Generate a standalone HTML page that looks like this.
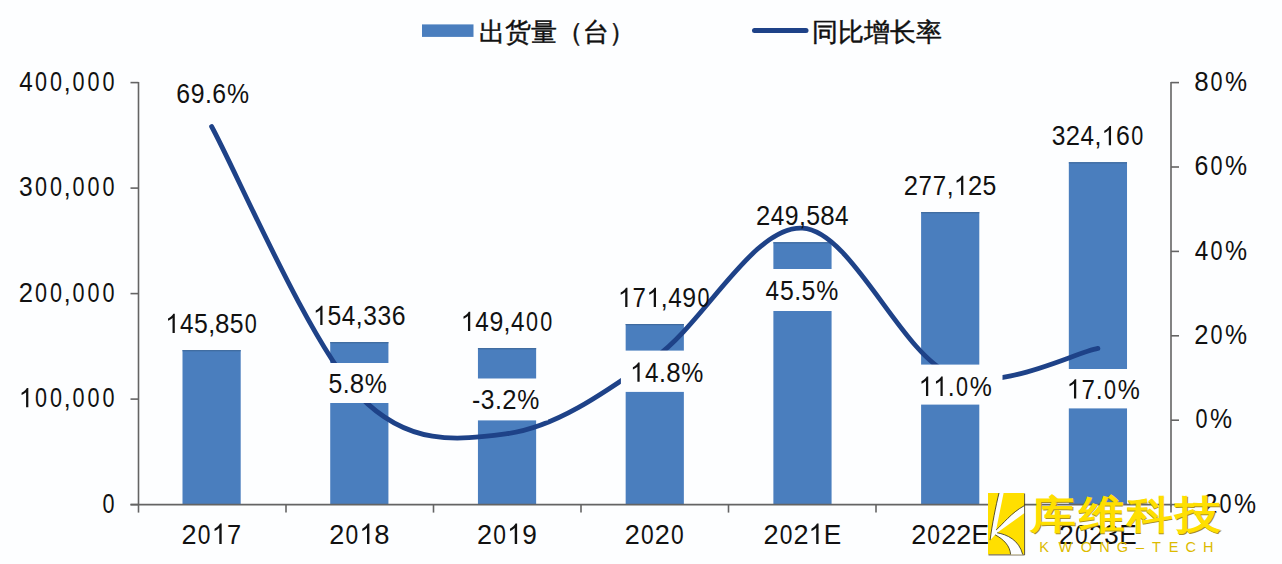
<!DOCTYPE html>
<html><head><meta charset="utf-8"><style>html,body{margin:0;padding:0;background:#fdfeff;width:1282px;height:564px;overflow:hidden}svg{display:block}</style></head>
<body><svg width="1282" height="564" viewBox="0 0 1282 564">
<rect width="1282" height="564" fill="#fdfeff"/>
<rect x="182.50" y="350.10" width="58.2" height="154.50" fill="#4a7ebe"/>
<rect x="182.50" y="350.10" width="58.2" height="1.2" fill="#3f6a9e"/>
<rect x="330.22" y="342.10" width="58.2" height="162.50" fill="#4a7ebe"/>
<rect x="330.22" y="342.10" width="58.2" height="1.2" fill="#3f6a9e"/>
<rect x="477.94" y="348.10" width="58.2" height="156.50" fill="#4a7ebe"/>
<rect x="477.94" y="348.10" width="58.2" height="1.2" fill="#3f6a9e"/>
<rect x="625.66" y="324.00" width="58.2" height="180.60" fill="#4a7ebe"/>
<rect x="625.66" y="324.00" width="58.2" height="1.2" fill="#3f6a9e"/>
<rect x="773.38" y="242.20" width="58.2" height="262.40" fill="#4a7ebe"/>
<rect x="773.38" y="242.20" width="58.2" height="1.2" fill="#3f6a9e"/>
<rect x="921.10" y="212.10" width="58.2" height="292.50" fill="#4a7ebe"/>
<rect x="921.10" y="212.10" width="58.2" height="1.2" fill="#3f6a9e"/>
<rect x="1068.82" y="162.20" width="58.2" height="342.40" fill="#4a7ebe"/>
<rect x="1068.82" y="162.20" width="58.2" height="1.2" fill="#3f6a9e"/>
<g stroke="#646464" stroke-width="1.6" fill="none">
<path d="M138.5 82.1V505.1M1171.0 82.1V506.6"/>
<path d="M130.5 504.6H1171.0"/>
<path d="M130.5 504.60H138.5"/>
<path d="M130.5 399.10H138.5"/>
<path d="M130.5 293.60H138.5"/>
<path d="M130.5 188.10H138.5"/>
<path d="M130.5 82.60H138.5"/>
<path d="M1171.0 504.60H1179.0"/>
<path d="M1171.0 420.20H1179.0"/>
<path d="M1171.0 335.80H1179.0"/>
<path d="M1171.0 251.40H1179.0"/>
<path d="M1171.0 167.00H1179.0"/>
<path d="M1171.0 82.60H1179.0"/>
<path d="M138.50 504.6V512.6"/>
<path d="M286.00 504.6V512.6"/>
<path d="M433.50 504.6V512.6"/>
<path d="M581.00 504.6V512.6"/>
<path d="M728.50 504.6V512.6"/>
<path d="M876.00 504.6V512.6"/>
<path d="M1023.50 504.6V512.6"/>
<path d="M1171.00 504.6V512.6"/>
</g>
<path d="M211.60 126.49 C236.22 171.36 310.08 344.52 359.32 395.72 C408.56 446.93 457.80 440.03 507.04 433.70 C556.28 427.37 605.52 392.00 654.76 357.74 C704.00 323.49 753.24 225.52 802.48 228.19 C851.72 230.86 900.96 353.74 950.20 373.78 C999.44 393.83 1073.30 352.68 1097.92 348.46" fill="none" stroke="#1e4288" stroke-width="4.8" stroke-linecap="round" stroke-linejoin="round"/>
<g font-family="Liberation Sans, sans-serif" font-size="27" fill="#111" text-anchor="middle">
<text transform="translate(183.06,103.00) scale(0.920,1)">6</text><text transform="translate(197.55,103.00) scale(0.920,1)">9</text><text transform="translate(208.41,103.00) scale(0.920,1)">.</text><text transform="translate(219.28,103.00) scale(0.920,1)">6</text><text transform="translate(238.11,103.00) scale(0.920,1)">%</text>
<rect x="317.80" y="363" width="80" height="40.00" fill="#fdfeff"/>
<text transform="translate(335.35,392.80) scale(0.920,1)">5</text><text transform="translate(346.22,392.80) scale(0.920,1)">.</text><text transform="translate(357.08,392.80) scale(0.960,1)">8</text><text transform="translate(375.91,392.80) scale(0.920,1)">%</text>
<rect x="463.80" y="378.5" width="84" height="41.90" fill="#fdfeff"/>
<text transform="translate(476.11,409.25) scale(0.920,1)">-</text><text transform="translate(487.69,409.25) scale(0.910,1)">3</text><text transform="translate(498.55,409.25) scale(0.920,1)">.</text><text transform="translate(509.42,409.25) scale(0.950,1)">2</text><text transform="translate(528.25,409.25) scale(0.920,1)">%</text>
<rect x="620.90" y="350.6" width="92" height="41.30" fill="#fdfeff"/>
<path transform="translate(637.21,381.85) scale(0.01252,-0.01318) translate(-569.5,0)" d="M763 0H583V1147C540 1106 483 1064 413 1023C343 982 280 951 223 930V1104C323 1151 410 1208 485 1275C560 1342 613 1406 644 1466H763Z"/><text transform="translate(651.70,381.85) scale(0.900,1)">4</text><text transform="translate(662.56,381.85) scale(0.920,1)">.</text><text transform="translate(673.43,381.85) scale(0.960,1)">8</text><text transform="translate(692.26,381.85) scale(0.920,1)">%</text>
<rect x="756.00" y="269" width="92" height="42.00" fill="#fdfeff"/>
<text transform="translate(772.31,300.30) scale(0.900,1)">4</text><text transform="translate(786.80,300.30) scale(0.920,1)">5</text><text transform="translate(797.66,300.30) scale(0.920,1)">.</text><text transform="translate(808.53,300.30) scale(0.920,1)">5</text><text transform="translate(827.36,300.30) scale(0.920,1)">%</text>
<rect x="908.50" y="364.6" width="94" height="40.00" fill="#fdfeff"/>
<path transform="translate(925.81,395.90) scale(0.01252,-0.01318) translate(-569.5,0)" d="M763 0H583V1147C540 1106 483 1064 413 1023C343 982 280 951 223 930V1104C323 1151 410 1208 485 1275C560 1342 613 1406 644 1466H763Z"/><path transform="translate(940.30,395.90) scale(0.01252,-0.01318) translate(-569.5,0)" d="M763 0H583V1147C540 1106 483 1064 413 1023C343 982 280 951 223 930V1104C323 1151 410 1208 485 1275C560 1342 613 1406 644 1466H763Z"/><text transform="translate(951.16,395.90) scale(0.920,1)">.</text><text transform="translate(962.03,395.90) scale(0.800,1)">0</text><text transform="translate(980.86,395.90) scale(0.920,1)">%</text>
<rect x="1057.50" y="369" width="92" height="39.40" fill="#fdfeff"/>
<path transform="translate(1073.81,398.50) scale(0.01252,-0.01318) translate(-569.5,0)" d="M763 0H583V1147C540 1106 483 1064 413 1023C343 982 280 951 223 930V1104C323 1151 410 1208 485 1275C560 1342 613 1406 644 1466H763Z"/><text transform="translate(1088.30,398.50) scale(0.890,1)">7</text><text transform="translate(1099.16,398.50) scale(0.920,1)">.</text><text transform="translate(1110.03,398.50) scale(0.800,1)">0</text><text transform="translate(1128.86,398.50) scale(0.920,1)">%</text>
<path transform="translate(172.37,333.10) scale(0.01252,-0.01318) translate(-569.5,0)" d="M763 0H583V1147C540 1106 483 1064 413 1023C343 982 280 951 223 930V1104C323 1151 410 1208 485 1275C560 1342 613 1406 644 1466H763Z"/><text transform="translate(186.64,333.10) scale(0.900,1)">4</text><text transform="translate(200.90,333.10) scale(0.920,1)">5</text><text transform="translate(211.60,333.10) scale(0.920,1)">,</text><text transform="translate(222.30,333.10) scale(0.960,1)">8</text><text transform="translate(236.56,333.10) scale(0.920,1)">5</text><text transform="translate(250.83,333.10) scale(0.800,1)">0</text>
<path transform="translate(320.09,325.10) scale(0.01252,-0.01318) translate(-569.5,0)" d="M763 0H583V1147C540 1106 483 1064 413 1023C343 982 280 951 223 930V1104C323 1151 410 1208 485 1275C560 1342 613 1406 644 1466H763Z"/><text transform="translate(334.36,325.10) scale(0.920,1)">5</text><text transform="translate(348.62,325.10) scale(0.900,1)">4</text><text transform="translate(359.32,325.10) scale(0.920,1)">,</text><text transform="translate(370.02,325.10) scale(0.910,1)">3</text><text transform="translate(384.28,325.10) scale(0.910,1)">3</text><text transform="translate(398.55,325.10) scale(0.920,1)">6</text>
<path transform="translate(467.81,331.10) scale(0.01252,-0.01318) translate(-569.5,0)" d="M763 0H583V1147C540 1106 483 1064 413 1023C343 982 280 951 223 930V1104C323 1151 410 1208 485 1275C560 1342 613 1406 644 1466H763Z"/><text transform="translate(482.08,331.10) scale(0.900,1)">4</text><text transform="translate(496.34,331.10) scale(0.920,1)">9</text><text transform="translate(507.04,331.10) scale(0.920,1)">,</text><text transform="translate(517.74,331.10) scale(0.900,1)">4</text><text transform="translate(532.00,331.10) scale(0.800,1)">0</text><text transform="translate(546.27,331.10) scale(0.800,1)">0</text>
<path transform="translate(625.03,307.00) scale(0.01252,-0.01318) translate(-569.5,0)" d="M763 0H583V1147C540 1106 483 1064 413 1023C343 982 280 951 223 930V1104C323 1151 410 1208 485 1275C560 1342 613 1406 644 1466H763Z"/><text transform="translate(639.30,307.00) scale(0.890,1)">7</text><path transform="translate(653.56,307.00) scale(0.01252,-0.01318) translate(-569.5,0)" d="M763 0H583V1147C540 1106 483 1064 413 1023C343 982 280 951 223 930V1104C323 1151 410 1208 485 1275C560 1342 613 1406 644 1466H763Z"/><text transform="translate(664.26,307.00) scale(0.920,1)">,</text><text transform="translate(674.96,307.00) scale(0.900,1)">4</text><text transform="translate(689.22,307.00) scale(0.920,1)">9</text><text transform="translate(703.49,307.00) scale(0.800,1)">0</text>
<text transform="translate(763.25,225.20) scale(0.950,1)">2</text><text transform="translate(777.52,225.20) scale(0.900,1)">4</text><text transform="translate(791.78,225.20) scale(0.920,1)">9</text><text transform="translate(802.48,225.20) scale(0.920,1)">,</text><text transform="translate(813.18,225.20) scale(0.920,1)">5</text><text transform="translate(827.44,225.20) scale(0.960,1)">8</text><text transform="translate(841.71,225.20) scale(0.900,1)">4</text>
<text transform="translate(910.97,195.10) scale(0.950,1)">2</text><text transform="translate(925.24,195.10) scale(0.890,1)">7</text><text transform="translate(939.50,195.10) scale(0.890,1)">7</text><text transform="translate(950.20,195.10) scale(0.920,1)">,</text><path transform="translate(960.90,195.10) scale(0.01252,-0.01318) translate(-569.5,0)" d="M763 0H583V1147C540 1106 483 1064 413 1023C343 982 280 951 223 930V1104C323 1151 410 1208 485 1275C560 1342 613 1406 644 1466H763Z"/><text transform="translate(975.16,195.10) scale(0.950,1)">2</text><text transform="translate(989.43,195.10) scale(0.920,1)">5</text>
<text transform="translate(1058.69,145.20) scale(0.910,1)">3</text><text transform="translate(1072.96,145.20) scale(0.950,1)">2</text><text transform="translate(1087.22,145.20) scale(0.900,1)">4</text><text transform="translate(1097.92,145.20) scale(0.920,1)">,</text><path transform="translate(1108.62,145.20) scale(0.01252,-0.01318) translate(-569.5,0)" d="M763 0H583V1147C540 1106 483 1064 413 1023C343 982 280 951 223 930V1104C323 1151 410 1208 485 1275C560 1342 613 1406 644 1466H763Z"/><text transform="translate(1122.88,145.20) scale(0.920,1)">6</text><text transform="translate(1137.15,145.20) scale(0.800,1)">0</text>
<text transform="translate(108.49,512.80) scale(0.800,1)">0</text>
<path transform="translate(25.91,407.30) scale(0.01252,-0.01318) translate(-569.5,0)" d="M763 0H583V1147C540 1106 483 1064 413 1023C343 982 280 951 223 930V1104C323 1151 410 1208 485 1275C560 1342 613 1406 644 1466H763Z"/><text transform="translate(40.93,407.30) scale(0.800,1)">0</text><text transform="translate(55.94,407.30) scale(0.800,1)">0</text><text transform="translate(67.20,407.30) scale(0.920,1)">,</text><text transform="translate(78.46,407.30) scale(0.800,1)">0</text><text transform="translate(93.48,407.30) scale(0.800,1)">0</text><text transform="translate(108.49,407.30) scale(0.800,1)">0</text>
<text transform="translate(25.91,301.80) scale(0.950,1)">2</text><text transform="translate(40.93,301.80) scale(0.800,1)">0</text><text transform="translate(55.94,301.80) scale(0.800,1)">0</text><text transform="translate(67.20,301.80) scale(0.920,1)">,</text><text transform="translate(78.46,301.80) scale(0.800,1)">0</text><text transform="translate(93.48,301.80) scale(0.800,1)">0</text><text transform="translate(108.49,301.80) scale(0.800,1)">0</text>
<text transform="translate(25.91,196.30) scale(0.910,1)">3</text><text transform="translate(40.93,196.30) scale(0.800,1)">0</text><text transform="translate(55.94,196.30) scale(0.800,1)">0</text><text transform="translate(67.20,196.30) scale(0.920,1)">,</text><text transform="translate(78.46,196.30) scale(0.800,1)">0</text><text transform="translate(93.48,196.30) scale(0.800,1)">0</text><text transform="translate(108.49,196.30) scale(0.800,1)">0</text>
<text transform="translate(25.91,90.80) scale(0.900,1)">4</text><text transform="translate(40.93,90.80) scale(0.800,1)">0</text><text transform="translate(55.94,90.80) scale(0.800,1)">0</text><text transform="translate(67.20,90.80) scale(0.920,1)">,</text><text transform="translate(78.46,90.80) scale(0.800,1)">0</text><text transform="translate(93.48,90.80) scale(0.800,1)">0</text><text transform="translate(108.49,90.80) scale(0.800,1)">0</text>
<text transform="translate(1198.50,512.80) scale(0.920,1)">-</text><text transform="translate(1210.50,512.80) scale(0.950,1)">2</text><text transform="translate(1225.52,512.80) scale(0.800,1)">0</text><text transform="translate(1245.03,512.80) scale(0.920,1)">%</text>
<text transform="translate(1201.51,428.40) scale(0.800,1)">0</text><text transform="translate(1221.02,428.40) scale(0.920,1)">%</text>
<text transform="translate(1201.51,344.00) scale(0.950,1)">2</text><text transform="translate(1216.52,344.00) scale(0.800,1)">0</text><text transform="translate(1236.04,344.00) scale(0.920,1)">%</text>
<text transform="translate(1201.51,259.60) scale(0.900,1)">4</text><text transform="translate(1216.52,259.60) scale(0.800,1)">0</text><text transform="translate(1236.04,259.60) scale(0.920,1)">%</text>
<text transform="translate(1201.51,175.20) scale(0.920,1)">6</text><text transform="translate(1216.52,175.20) scale(0.800,1)">0</text><text transform="translate(1236.04,175.20) scale(0.920,1)">%</text>
<text transform="translate(1201.51,90.80) scale(0.960,1)">8</text><text transform="translate(1216.52,90.80) scale(0.800,1)">0</text><text transform="translate(1236.04,90.80) scale(0.920,1)">%</text>
<text transform="translate(189.08,544.00) scale(0.950,1)" font-size="28.5">2</text><text transform="translate(204.09,544.00) scale(0.800,1)" font-size="28.5">0</text><path transform="translate(219.11,544.00) scale(0.01322,-0.01392) translate(-569.5,0)" d="M763 0H583V1147C540 1106 483 1064 413 1023C343 982 280 951 223 930V1104C323 1151 410 1208 485 1275C560 1342 613 1406 644 1466H763Z"/><text transform="translate(234.12,544.00) scale(0.890,1)" font-size="28.5">7</text>
<text transform="translate(336.80,544.00) scale(0.950,1)" font-size="28.5">2</text><text transform="translate(351.81,544.00) scale(0.800,1)" font-size="28.5">0</text><path transform="translate(366.83,544.00) scale(0.01322,-0.01392) translate(-569.5,0)" d="M763 0H583V1147C540 1106 483 1064 413 1023C343 982 280 951 223 930V1104C323 1151 410 1208 485 1275C560 1342 613 1406 644 1466H763Z"/><text transform="translate(381.84,544.00) scale(0.960,1)" font-size="28.5">8</text>
<text transform="translate(484.52,544.00) scale(0.950,1)" font-size="28.5">2</text><text transform="translate(499.53,544.00) scale(0.800,1)" font-size="28.5">0</text><path transform="translate(514.55,544.00) scale(0.01322,-0.01392) translate(-569.5,0)" d="M763 0H583V1147C540 1106 483 1064 413 1023C343 982 280 951 223 930V1104C323 1151 410 1208 485 1275C560 1342 613 1406 644 1466H763Z"/><text transform="translate(529.56,544.00) scale(0.920,1)" font-size="28.5">9</text>
<text transform="translate(632.24,544.00) scale(0.950,1)" font-size="28.5">2</text><text transform="translate(647.25,544.00) scale(0.800,1)" font-size="28.5">0</text><text transform="translate(662.27,544.00) scale(0.950,1)" font-size="28.5">2</text><text transform="translate(677.28,544.00) scale(0.800,1)" font-size="28.5">0</text>
<text transform="translate(770.95,544.00) scale(0.950,1)" font-size="28.5">2</text><text transform="translate(785.97,544.00) scale(0.800,1)" font-size="28.5">0</text><text transform="translate(800.98,544.00) scale(0.950,1)" font-size="28.5">2</text><path transform="translate(816.00,544.00) scale(0.01322,-0.01392) translate(-569.5,0)" d="M763 0H583V1147C540 1106 483 1064 413 1023C343 982 280 951 223 930V1104C323 1151 410 1208 485 1275C560 1342 613 1406 644 1466H763Z"/><text transform="translate(832.51,544.00) scale(0.920,1)" font-size="28.5">E</text>
<text transform="translate(918.67,544.00) scale(0.950,1)" font-size="28.5">2</text><text transform="translate(933.69,544.00) scale(0.800,1)" font-size="28.5">0</text><text transform="translate(948.70,544.00) scale(0.950,1)" font-size="28.5">2</text><text transform="translate(963.72,544.00) scale(0.950,1)" font-size="28.5">2</text><text transform="translate(980.23,544.00) scale(0.920,1)" font-size="28.5">E</text>
<text transform="translate(1066.39,544.00) scale(0.950,1)" font-size="28.5">2</text><text transform="translate(1081.41,544.00) scale(0.800,1)" font-size="28.5">0</text><text transform="translate(1096.42,544.00) scale(0.950,1)" font-size="28.5">2</text><text transform="translate(1111.44,544.00) scale(0.910,1)" font-size="28.5">3</text><text transform="translate(1127.95,544.00) scale(0.920,1)" font-size="28.5">E</text>
</g>
<rect x="422" y="24.4" width="51.5" height="12.5" fill="#4a7ebe"/>
<path d="M754.5 30.6H806" stroke="#1e4288" stroke-width="5" stroke-linecap="round"/>
<g font-family="Liberation Sans, sans-serif" font-size="26" fill="#111" stroke="#111" stroke-width="0.45">
<text x="479" y="41">出货量（台）</text>
<text x="812" y="41">同比增长率</text>
</g>
<rect x="988" y="493" width="36.1" height="61.4" fill="#ffdf00"/>
<path d="M1024.6 493.5V554.9H988.5" fill="none" stroke="#4a4020" stroke-width="0.9"/>
<path d="M999 493L1003.6 493L996.1 530C1003 524 1011 513 1024.1 505.8L1024.1 513.3L997.1 532.8C1007 534.5 1019 540 1022.7 554.4L1010.6 554.4C1010 546 1004 539.5 995.1 534.8L990.1 540.2C992 525 996 505 999 493Z" fill="#fdfeff"/>
<path d="M990.1 540.2C992 525 996 505 999 493M996.1 530C1003 524 1011 513 1024.1 505.8M997.1 532.8C1007 534.5 1019 540 1022.7 554.4M1010.6 554.4C1010 546 1004 539.5 995.1 534.8" fill="none" stroke="#2e2a14" stroke-width="0.8"/>
<g transform="translate(0,530) scale(1,0.85)" font-family="Liberation Sans, sans-serif" font-size="46" font-weight="600">
<text x="1031.0" y="-1.4" fill="#a89020">库</text>
<text x="1079.2" y="-1.4" fill="#a89020">维</text>
<text x="1127.4" y="-1.4" fill="#a89020">科</text>
<text x="1175.6" y="-1.4" fill="#a89020">技</text>
<text x="1030.5" y="-2" fill="#ffdf00">库</text>
<text x="1078.7" y="-2" fill="#ffdf00">维</text>
<text x="1126.9" y="-2" fill="#ffdf00">科</text>
<text x="1175.1" y="-2" fill="#ffdf00">技</text>
</g>
<g font-family="Liberation Sans, sans-serif" font-size="14.5" fill="#dcba00">
<text x="1039.2" y="552.2">K</text>
<text x="1058.4" y="552.2">W</text>
<text x="1080.8" y="552.2">O</text>
<text x="1099.2" y="552.2">N</text>
<text x="1116.7" y="552.2">G</text>
<text x="1136.0" y="552.2">–</text>
<text x="1151.9" y="552.2">T</text>
<text x="1168.7" y="552.2">E</text>
<text x="1185.5" y="552.2">C</text>
<text x="1203.1" y="552.2">H</text>
</g>
</svg></body></html>
